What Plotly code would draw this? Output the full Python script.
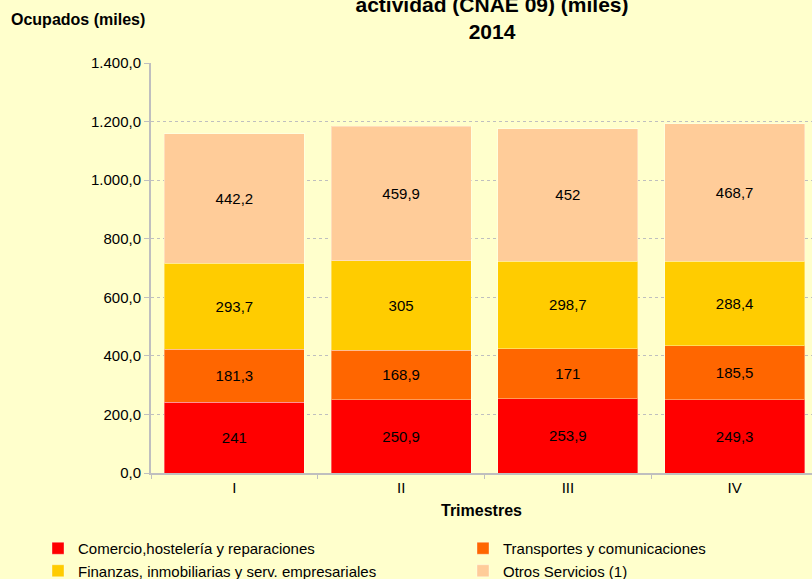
"""
Ocupados por sector de actividad (CNAE 09), 2014 - stacked bars by trimestre
"""

import plotly.graph_objects as go

# data
trimestres = ["I", "II", "III", "IV"]
comercio = [241, 250.9, 253.9, 249.3]
transportes = [181.3, 168.9, 171, 185.5]
finanzas = [293.7, 305, 298.7, 288.4]
otros = [442.2, 459.9, 452, 468.7]

# name, values, colour, legend column
series = [
    ("Comercio,hostelería y reparaciones", comercio, "#FF0000", "legend"),
    ("Transportes y comunicaciones", transportes, "#FF6600", "legend2"),
    ("Finanzas, inmobiliarias y serv. empresariales", finanzas, "#FFCC00", "legend"),
    ("Otros Servicios (1)", otros, "#FFCC99", "legend2"),
]

FONT = "Liberation Sans, Arial, sans-serif"
BG = "#FFFFCC"
GREY = "#BFBFBF"


def fmt(v):
    # spanish decimal comma, no trailing zeros
    return f"{v:g}".replace(".", ",")


fig = go.Figure()
for name, vals, color, leg in series:
    fig.add_trace(go.Bar(
        x=trimestres,
        y=vals,
        name=name,
        legend=leg,
        marker=dict(color=color, line=dict(color="rgba(255,255,255,0.35)", width=1)),
        text=[fmt(v) for v in vals],
        textposition="inside",
        insidetextanchor="middle",
        textangle=0,
        insidetextfont=dict(color="black", size=15, family=FONT),
        hoverinfo="x+y+name",
    ))

legend_style = dict(
    orientation="v",
    traceorder="normal",
    xanchor="left", yanchor="top",
    y=(473 - 532) / 410,
    font=dict(size=15),
    bgcolor="rgba(0,0,0,0)",
    tracegroupgap=0,
)

fig.update_layout(
    width=812,
    height=579,
    barmode="stack",
    bargap=0.16,
    separators=",.",
    paper_bgcolor=BG,
    plot_bgcolor=BG,
    font=dict(family=FONT, size=15, color="black"),
    margin=dict(l=151, r=0, t=63, b=106, autoexpand=False),
    title=dict(
        text="<b>actividad (CNAE 09) (miles)<br>2014</b>",
        font=dict(size=21, family=FONT, color="black"),
        x=492 / 812, xanchor="center",
        yref="container", y=1 - 12 / 579, yanchor="bottom",
    ),
    xaxis=dict(
        range=[-0.5, 3.464],
        showline=True, linecolor=GREY, linewidth=2,
        ticks="outside", tickson="boundaries", ticklen=4, tickcolor=GREY,
        showgrid=False,
        tickfont=dict(size=15),
        automargin=False,
    ),
    yaxis=dict(
        range=[0, 1400],
        dtick=200,
        tickformat=",.1f",
        showline=True, linecolor=GREY, linewidth=2,
        ticks="outside", ticklen=5, tickcolor=GREY,
        showgrid=True, gridcolor=GREY, griddash="dot", gridwidth=1,
        zeroline=False,
        tickfont=dict(size=15),
        automargin=False,
    ),
    legend=dict(legend_style, x=(38 - 151) / 661),
    legend2=dict(legend_style, x=(463 - 151) / 661),
    annotations=[
        dict(text="<b>Ocupados (miles)</b>", xref="paper", yref="paper",
             x=(9 - 151) / 661, y=(473 - 20) / 410,
             xanchor="left", yanchor="middle", showarrow=False,
             font=dict(size=16)),
        dict(text="<b>Trimestres</b>", xref="paper", yref="paper",
             x=(481 - 151) / 661, y=(473 - 510) / 410,
             xanchor="center", yanchor="middle", showarrow=False,
             font=dict(size=16)),
    ],
)

# drop the default 8px body margin so the figure sits at the window's corner
fig.write_html("out.html",
               config={"displayModeBar": False},
               post_script="document.body.style.margin='0';")
